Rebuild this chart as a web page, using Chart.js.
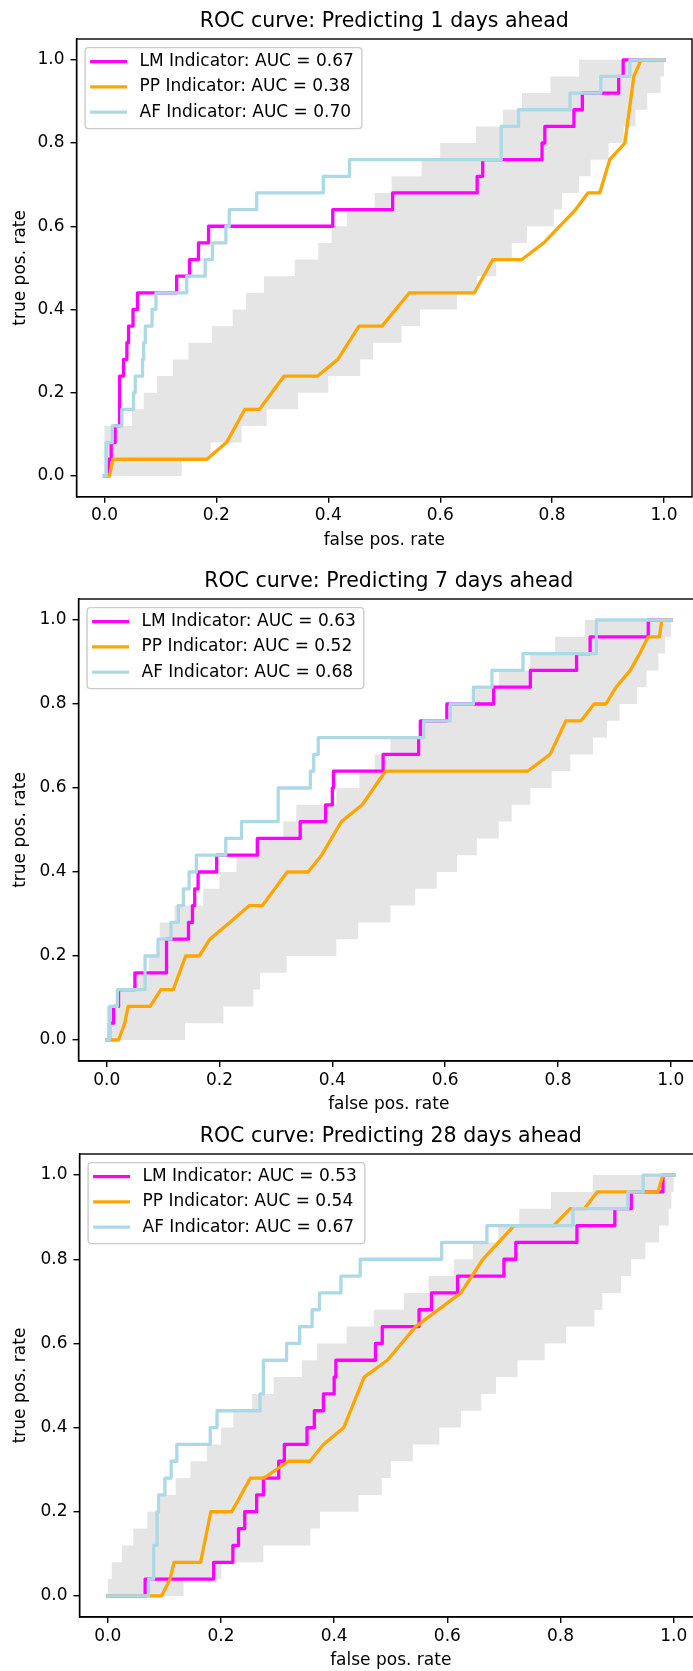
<!DOCTYPE html>
<html>
<head>
<meta charset="utf-8">
<script src="https://cdn.jsdelivr.net/npm/chart.js@4.4.0/dist/chart.umd.min.js"></script>
<style>
  html, body { margin: 0; padding: 0; background: #fff; }
  body { width: 693px; height: 1671px; overflow: hidden; position: relative; }
  canvas { position: absolute; left: 0; }
</style>
</head>
<body>
<canvas id="roc1"></canvas>
<canvas id="roc7"></canvas>
<canvas id="roc28"></canvas>
<script>
// axis ticks
const tickVals = [0, 0.2, 0.4, 0.6, 0.8, 1.0];
const tickLabels = ['0.0', '0.2', '0.4', '0.6', '0.8', '1.0'];

const indicators = ['LM Indicator', 'PP Indicator', 'AF Indicator'];
const horizons = [1, 7, 28];
const auc1 = [0.67, 0.38, 0.70];
const auc7 = [0.63, 0.52, 0.68];
const auc28 = [0.53, 0.54, 0.67];

// ---- 1 day ahead ----
// LM / AF : fpr where the curve rises, tpr reached there
const lm1X = [0, 0.008, 0.012, 0.019, 0.027, 0.034, 0.040, 0.043, 0.051, 0.059, 0.129, 0.152, 0.168, 0.186, 0.408, 0.515, 0.666, 0.676, 0.782, 0.787, 0.839, 0.854, 0.919, 0.927, 1.0];
const lm1Y = [0, 0.04, 0.08, 0.12, 0.24, 0.28, 0.32, 0.36, 0.40, 0.44, 0.48, 0.52, 0.56, 0.60, 0.64, 0.68, 0.72, 0.76, 0.80, 0.84, 0.88, 0.92, 0.96, 1.0, 1.0];
const af1X = [0, 0.003, 0.014, 0.031, 0.052, 0.055, 0.068, 0.070, 0.073, 0.085, 0.092, 0.147, 0.180, 0.193, 0.217, 0.223, 0.272, 0.391, 0.438, 0.709, 0.740, 0.832, 0.887, 0.939, 1.0];
const af1Y = [0, 0.08, 0.12, 0.16, 0.20, 0.24, 0.28, 0.32, 0.36, 0.40, 0.44, 0.48, 0.52, 0.56, 0.60, 0.64, 0.68, 0.72, 0.76, 0.84, 0.88, 0.92, 0.96, 1.0, 1.0];
// PP : roc points (ties give slanted pieces)
const pp1X = [0, 0.009, 0.015, 0.183, 0.218, 0.251, 0.277, 0.321, 0.381, 0.417, 0.455, 0.496, 0.545, 0.661, 0.694, 0.746, 0.785, 0.842, 0.864, 0.885, 0.903, 0.930, 0.946, 0.959, 1.0];
const pp1Y = [0, 0, 0.04, 0.04, 0.08, 0.16, 0.16, 0.24, 0.24, 0.28, 0.36, 0.36, 0.44, 0.44, 0.52, 0.52, 0.56, 0.64, 0.68, 0.68, 0.76, 0.80, 0.96, 1.0, 1.0];
// random band (upper / lower step edges)
const band1HiX = [0, 0.049, 0.070, 0.094, 0.122, 0.150, 0.192, 0.229, 0.253, 0.285, 0.340, 0.382, 0.406, 0.433, 0.483, 0.513, 0.567, 0.600, 0.664, 0.712, 0.746, 0.797, 0.848, 1.0];
const band1HiY = [0.12, 0.16, 0.20, 0.24, 0.28, 0.32, 0.36, 0.40, 0.44, 0.48, 0.52, 0.56, 0.60, 0.64, 0.68, 0.72, 0.76, 0.80, 0.84, 0.88, 0.92, 0.96, 1.0, 1.0];
const band1LoX = [0, 0.138, 0.190, 0.245, 0.290, 0.346, 0.400, 0.457, 0.480, 0.531, 0.564, 0.630, 0.666, 0.700, 0.728, 0.755, 0.803, 0.818, 0.848, 0.869, 0.901, 0.928, 0.949, 0.970, 0.994, 1.0];
const band1LoY = [0, 0.04, 0.08, 0.12, 0.16, 0.20, 0.24, 0.28, 0.32, 0.36, 0.40, 0.44, 0.48, 0.52, 0.56, 0.60, 0.64, 0.68, 0.72, 0.76, 0.80, 0.84, 0.88, 0.92, 0.96, 1.0];

// ---- 7 days ahead ----
const lm7X = [0, 0.005, 0.012, 0.021, 0.050, 0.106, 0.145, 0.152, 0.156, 0.162, 0.195, 0.267, 0.343, 0.388, 0.400, 0.402, 0.490, 0.553, 0.556, 0.603, 0.686, 0.751, 0.833, 0.857, 0.960, 1.0];
const lm7Y = [0, 0.04, 0.08, 0.12, 0.16, 0.24, 0.28, 0.32, 0.36, 0.40, 0.44, 0.48, 0.52, 0.56, 0.60, 0.64, 0.68, 0.72, 0.76, 0.80, 0.84, 0.88, 0.92, 0.96, 1.0, 1.0];
const af7X = [0, 0.005, 0.019, 0.068, 0.091, 0.114, 0.127, 0.136, 0.146, 0.159, 0.211, 0.239, 0.304, 0.361, 0.367, 0.375, 0.562, 0.609, 0.650, 0.683, 0.738, 0.868, 1.0];
const af7Y = [0, 0.08, 0.12, 0.20, 0.24, 0.28, 0.32, 0.36, 0.40, 0.44, 0.48, 0.52, 0.60, 0.64, 0.68, 0.72, 0.76, 0.80, 0.84, 0.88, 0.92, 1.0, 1.0];
const pp7X = [0, 0.021, 0.032, 0.038, 0.077, 0.096, 0.118, 0.140, 0.164, 0.183, 0.218, 0.253, 0.276, 0.320, 0.357, 0.381, 0.416, 0.453, 0.494, 0.746, 0.786, 0.814, 0.841, 0.864, 0.885, 0.903, 0.928, 0.945, 0.960, 0.980, 0.984, 1.0];
const pp7Y = [0, 0, 0.04, 0.08, 0.08, 0.12, 0.12, 0.20, 0.20, 0.24, 0.28, 0.32, 0.32, 0.40, 0.40, 0.44, 0.52, 0.56, 0.64, 0.64, 0.68, 0.76, 0.76, 0.80, 0.80, 0.84, 0.88, 0.92, 0.96, 0.96, 1.0, 1.0];
const band7HiX = [0, 0.020, 0.050, 0.075, 0.094, 0.120, 0.171, 0.200, 0.230, 0.271, 0.313, 0.336, 0.407, 0.448, 0.475, 0.503, 0.556, 0.609, 0.650, 0.695, 0.751, 0.795, 0.848, 1.0];
const band7HiY = [0.08, 0.12, 0.16, 0.20, 0.28, 0.32, 0.36, 0.40, 0.44, 0.48, 0.52, 0.56, 0.60, 0.64, 0.68, 0.72, 0.76, 0.80, 0.84, 0.88, 0.92, 0.96, 1.0, 1.0];
const band7LoX = [0, 0.139, 0.207, 0.260, 0.272, 0.319, 0.407, 0.446, 0.503, 0.547, 0.585, 0.621, 0.656, 0.695, 0.718, 0.751, 0.789, 0.822, 0.862, 0.887, 0.909, 0.940, 0.957, 0.978, 0.990, 1.0];
const band7LoY = [0, 0.04, 0.08, 0.12, 0.16, 0.20, 0.24, 0.28, 0.32, 0.36, 0.40, 0.44, 0.48, 0.52, 0.56, 0.60, 0.64, 0.68, 0.72, 0.76, 0.80, 0.84, 0.88, 0.92, 0.96, 1.0];

// ---- 28 days ahead ----
const lm28X = [0, 0.066, 0.187, 0.221, 0.231, 0.242, 0.263, 0.275, 0.302, 0.312, 0.352, 0.365, 0.381, 0.400, 0.403, 0.473, 0.485, 0.550, 0.572, 0.618, 0.700, 0.721, 0.829, 0.896, 0.925, 0.981, 1.0];
const lm28Y = [0, 0.04, 0.08, 0.12, 0.16, 0.20, 0.24, 0.28, 0.32, 0.36, 0.40, 0.44, 0.48, 0.52, 0.56, 0.60, 0.64, 0.68, 0.72, 0.76, 0.80, 0.84, 0.88, 0.92, 0.96, 1.0, 1.0];
const af28X = [0, 0.072, 0.081, 0.087, 0.090, 0.101, 0.112, 0.122, 0.181, 0.193, 0.269, 0.275, 0.316, 0.339, 0.361, 0.374, 0.412, 0.446, 0.590, 0.670, 0.822, 0.919, 0.946, 1.0];
const af28Y = [0, 0.04, 0.12, 0.20, 0.24, 0.28, 0.32, 0.36, 0.40, 0.44, 0.48, 0.56, 0.60, 0.64, 0.68, 0.72, 0.76, 0.80, 0.84, 0.88, 0.92, 0.96, 1.0, 1.0];
const pp28X = [0, 0.095, 0.110, 0.117, 0.164, 0.182, 0.219, 0.252, 0.276, 0.319, 0.357, 0.381, 0.417, 0.453, 0.494, 0.544, 0.624, 0.663, 0.718, 0.788, 0.817, 0.842, 0.865, 0.972, 0.981, 1.0];
const pp28Y = [0, 0, 0.04, 0.08, 0.08, 0.20, 0.20, 0.28, 0.28, 0.32, 0.32, 0.36, 0.40, 0.52, 0.56, 0.64, 0.72, 0.80, 0.88, 0.88, 0.92, 0.92, 0.96, 0.96, 1.0, 1.0];
const band28HiX = [0, 0.007, 0.025, 0.045, 0.070, 0.093, 0.120, 0.146, 0.175, 0.200, 0.222, 0.255, 0.293, 0.343, 0.370, 0.422, 0.470, 0.523, 0.567, 0.612, 0.645, 0.690, 0.727, 0.783, 0.857, 1.0];
const band28HiY = [0.04, 0.08, 0.12, 0.16, 0.20, 0.24, 0.28, 0.32, 0.36, 0.40, 0.44, 0.48, 0.52, 0.56, 0.60, 0.64, 0.68, 0.72, 0.76, 0.80, 0.84, 0.88, 0.92, 0.96, 1.0, 1.0];
const band28LoX = [0, 0.134, 0.200, 0.275, 0.358, 0.375, 0.443, 0.484, 0.500, 0.539, 0.586, 0.624, 0.660, 0.686, 0.724, 0.772, 0.810, 0.860, 0.874, 0.907, 0.925, 0.950, 0.974, 0.991, 0.996, 1.0];
const band28LoY = [0, 0.04, 0.08, 0.12, 0.16, 0.20, 0.24, 0.28, 0.32, 0.36, 0.40, 0.44, 0.48, 0.52, 0.56, 0.60, 0.64, 0.68, 0.72, 0.76, 0.80, 0.84, 0.88, 0.92, 0.96, 1.0];

const colors = { lm: '#ff00ff', pp: '#ffa500', af: '#add8e6', band: '#e5e5e5' };
const FONT = '"DejaVu Sans", sans-serif';

Chart.defaults.font.family = FONT;
Chart.defaults.font.size = 17;
Chart.defaults.color = '#000';

// vertical rise at each fpr then flat (roc step)
function rocSteps(xs, ys) {
  const pts = [];
  for (let i = 0; i < xs.length; i++) {
    if (i > 0) pts.push({ x: xs[i], y: ys[i - 1] });
    pts.push({ x: xs[i], y: ys[i] });
  }
  return pts;
}
function rocPoints(xs, ys) {
  return xs.map((x, i) => ({ x: x, y: ys[i] }));
}
// closed outline: upper edge left->right, lower edge right->left
function bandOutline(hiX, hiY, loX, loY) {
  const pts = [];
  for (let i = 0; i < hiX.length - 1; i++) {
    pts.push({ x: hiX[i], y: hiY[i] }, { x: hiX[i + 1], y: hiY[i] });
  }
  for (let i = loX.length - 2; i >= 0; i--) {
    pts.push({ x: loX[i + 1], y: loY[i] }, { x: loX[i], y: loY[i] });
  }
  return pts;
}

// spines on all four sides
const spinesPlugin = {
  id: 'spines',
  afterDatasetsDraw(chart) {
    const { ctx, chartArea: a } = chart;
    ctx.save();
    ctx.strokeStyle = '#000';
    ctx.lineWidth = 1.4;
    ctx.strokeRect(a.left, a.top, a.right - a.left, a.bottom - a.top);
    ctx.restore();
  }
};

// matplotlib-like legend in the upper left corner
const rocLegend = {
  id: 'rocLegend',
  afterDraw(chart, args, opts) {
    const { ctx, chartArea: a } = chart;
    ctx.save();
    ctx.font = '17px ' + FONT;
    const textW = Math.max(...opts.labels.map(t => ctx.measureText(t).width));
    const x0 = a.left + 8.6, y0 = a.top + 8.6;
    const w = 6.8 + 34 + 13.6 + textW + 8, h = 81, r = 3.4;
    ctx.beginPath();
    ctx.moveTo(x0 + r, y0);
    ctx.lineTo(x0 + w - r, y0);
    ctx.arcTo(x0 + w, y0, x0 + w, y0 + r, r);
    ctx.lineTo(x0 + w, y0 + h - r);
    ctx.arcTo(x0 + w, y0 + h, x0 + w - r, y0 + h, r);
    ctx.lineTo(x0 + r, y0 + h);
    ctx.arcTo(x0, y0 + h, x0, y0 + h - r, r);
    ctx.lineTo(x0, y0 + r);
    ctx.arcTo(x0, y0, x0 + r, y0, r);
    ctx.closePath();
    ctx.fillStyle = 'rgba(255,255,255,0.8)';
    ctx.fill();
    ctx.strokeStyle = '#cccccc';
    ctx.lineWidth = 1.4;
    ctx.stroke();
    opts.labels.forEach((t, i) => {
      const cy = y0 + 14 + i * 25.3;
      ctx.beginPath();
      ctx.moveTo(x0 + 5, cy);
      ctx.lineTo(x0 + 42, cy);
      ctx.strokeStyle = opts.colors[i];
      ctx.lineWidth = 3.3;
      ctx.stroke();
      ctx.fillStyle = '#000';
      ctx.textBaseline = 'middle';
      ctx.textAlign = 'left';
      ctx.fillText(t, x0 + 54.4, cy);
    });
    ctx.restore();
  }
};

function axisOpts(titleText, pad, fit) {
  return {
    type: 'linear',
    min: -0.05,
    max: 1.05,
    afterBuildTicks: s => { s.ticks = tickVals.map(v => ({ value: v })); },
    afterFit: fit,
    ticks: { callback: (v, i) => tickLabels[i], color: '#000', font: { size: 17 } },
    grid: { drawOnChartArea: false, drawTicks: true, tickLength: 6, color: '#000', lineWidth: 1.4 },
    border: { display: true, color: '#000', width: 1.4 },
    title: { display: true, text: titleText, color: '#000', font: { size: 17 }, padding: pad }
  };
}

function makeRoc(canvasId, panel, d) {
  const canvas = document.getElementById(canvasId);
  const canvasW = 720;
  const plotH = panel.bottom - panel.top;
  const canvasH = Math.ceil(panel.titleBlock + plotH + 58);
  const xAxisH = canvasH - panel.titleBlock - plotH;
  canvas.width = canvasW;
  canvas.height = canvasH;
  canvas.style.top = (panel.top - panel.titleBlock) + 'px';

  const labels = indicators.map((n, i) => n + ': AUC = ' + d.auc[i].toFixed(2));

  const xAxis = axisOpts('false pos. rate', { top: 0, bottom: xAxisH - 53.6 }, s => { s.height = xAxisH; });
  xAxis.ticks.padding = 3;
  const yAxis = axisOpts('true pos. rate', { top: 10.6, bottom: 0 }, s => { s.width = panel.left; });
  yAxis.ticks.padding = 6;

  const line = (label, data, color, order) => ({
    label: label, data: data, order: order,
    showLine: true, borderColor: color, borderWidth: 3.3,
    borderJoinStyle: 'round', borderCapStyle: 'square',
    pointRadius: 0, fill: false
  });

  return new Chart(canvas, {
    type: 'scatter',
    data: {
      datasets: [
        line(labels[2], rocSteps(d.afX, d.afY), colors.af, 0),
        line(labels[1], rocPoints(d.ppX, d.ppY), colors.pp, 1),
        line(labels[0], rocSteps(d.lmX, d.lmY), colors.lm, 2),
        {
          label: 'band', order: 3,
          data: bandOutline(d.hiX, d.hiY, d.loX, d.loY),
          showLine: true, borderWidth: 0, borderColor: colors.band,
          backgroundColor: colors.band, fill: 'shape', pointRadius: 0
        }
      ]
    },
    options: {
      responsive: false,
      animation: false,
      devicePixelRatio: 1,
      events: [],
      layout: { padding: { left: 0, top: 0, bottom: 0, right: canvasW - panel.right } },
      scales: { x: xAxis, y: yAxis },
      plugins: {
        legend: { display: false },
        tooltip: { enabled: false },
        title: {
          display: true,
          fullSize: false,
          text: 'ROC curve: Predicting ' + d.days + ' days ahead',
          color: '#000',
          font: { size: 20.5, weight: 'normal' },
          padding: { top: panel.titleBlock - 30, bottom: 5.4 }
        },
        rocLegend: { labels: labels, colors: [colors.lm, colors.pp, colors.af] }
      }
    },
    plugins: [spinesPlugin, rocLegend]
  });
}

makeRoc('roc1', { left: 76.5, top: 39, right: 692, bottom: 496.7, titleBlock: 39 }, {
  days: horizons[0], auc: auc1,
  lmX: lm1X, lmY: lm1Y, afX: af1X, afY: af1Y, ppX: pp1X, ppY: pp1Y,
  hiX: band1HiX, hiY: band1HiY, loX: band1LoX, loY: band1LoY
});
makeRoc('roc7', { left: 78.5, top: 599, right: 699, bottom: 1061, titleBlock: 40 }, {
  days: horizons[1], auc: auc7,
  lmX: lm7X, lmY: lm7Y, afX: af7X, afY: af7Y, ppX: pp7X, ppY: pp7Y,
  hiX: band7HiX, hiY: band7HiY, loX: band7LoX, loY: band7LoY
});
makeRoc('roc28', { left: 79.5, top: 1154, right: 702, bottom: 1617, titleBlock: 40 }, {
  days: horizons[2], auc: auc28,
  lmX: lm28X, lmY: lm28Y, afX: af28X, afY: af28Y, ppX: pp28X, ppY: pp28Y,
  hiX: band28HiX, hiY: band28HiY, loX: band28LoX, loY: band28LoY
});
</script>
</body>
</html>
